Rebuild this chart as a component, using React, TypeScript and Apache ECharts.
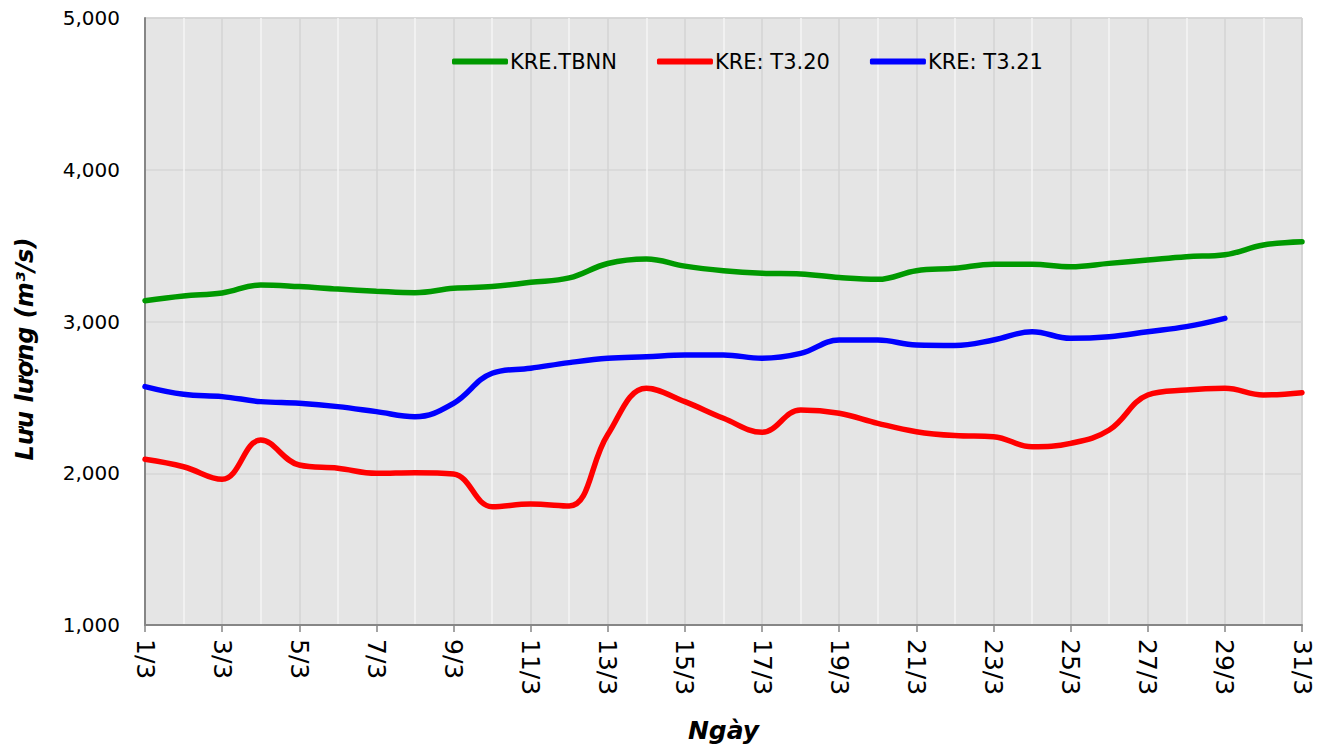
import React, { useEffect, useRef } from "react";
import * as echarts from "echarts";

const days: string[] = Array.from({ length: 31 }, (_, i) => `${i + 1}/3`);

const tbnn: number[] = [
  3137, 3168, 3188, 3241, 3230, 3214, 3200, 3190, 3219, 3230, 3258, 3287, 3382, 3412, 3365, 3335,
  3318, 3313, 3290, 3278, 3335, 3351, 3378, 3377, 3361, 3383, 3405, 3427, 3440, 3504, 3526,
];

const t320: number[] = [
  2092, 2043, 1960, 2219, 2054, 2033, 2000, 2004, 1995, 1780, 1797, 1784, 2255, 2560, 2472, 2362,
  2270, 2417, 2395, 2329, 2274, 2248, 2241, 2175, 2197, 2285, 2516, 2549, 2560, 2516, 2531,
];

const t321: (number | null)[] = [
  2571, 2520, 2505, 2472, 2461, 2439, 2406, 2373, 2461, 2659, 2692, 2729, 2758, 2768, 2779, 2779,
  2758, 2790, 2878, 2878, 2845, 2842, 2878, 2933, 2889, 2900, 2933, 2966, 3021, null, null,
];

const seriesNames = ["KRE.TBNN", "KRE: T3.20", "KRE: T3.21"];
const seriesColors = ["#009900", "#ff0000", "#0000ff"];

const FONT = '"DejaVu Sans", Verdana, sans-serif';

export default function App() {
  const ref = useRef<HTMLDivElement>(null);
  useEffect(() => {
    if (!ref.current) return;
    const chart = echarts.init(ref.current, null, { renderer: "svg" });
    const data = [tbnn, t320, t321];
    chart.setOption({
      animation: false,
      backgroundColor: "#ffffff",
      grid: {
        left: 145,
        top: 18,
        right: 27,
        bottom: 124,
        show: true,
        backgroundColor: "#e5e5e5",
        borderColor: "#bdbdbd",
        borderWidth: 1,
      },
      legend: {
        show: true,
        left: 447,
        top: 46,
        icon: "roundRect",
        itemWidth: 56,
        itemHeight: 6,
        itemGap: 40,
        textStyle: { fontFamily: FONT, fontSize: 21, color: "#000", padding: [0, 0, 0, -3] },
        data: seriesNames,
      },
      xAxis: {
        type: "category",
        data: days,
        boundaryGap: false,
        axisLine: { show: true, lineStyle: { color: "#868686", width: 2 } },
        axisTick: { show: true, interval: 1, length: 7, lineStyle: { color: "#868686", width: 1.5 } },
        axisLabel: {
          interval: 1,
          rotate: -90,
          margin: 14,
          fontFamily: FONT,
          fontSize: 25,
          color: "#000",
        },
        splitLine: {
          show: true,
          interval: 0,
          lineStyle: { color: ["#d3d3d3", "#f5f5f5"], width: 1.5 },
        },
        name: "Ngày",
        nameLocation: "middle",
        nameGap: 93,
        nameTextStyle: {
          fontFamily: FONT,
          fontSize: 25,
          fontWeight: "bold",
          fontStyle: "italic",
          color: "#000",
        },
      },
      yAxis: {
        type: "value",
        min: 1000,
        max: 5000,
        interval: 1000,
        axisLine: { show: true, lineStyle: { color: "#868686", width: 2 } },
        axisTick: { show: false },
        axisLabel: {
          margin: 25,
          fontFamily: FONT,
          fontSize: 20,
          color: "#000",
          formatter: (v: number) => v.toLocaleString("en-US"),
        },
        splitLine: { show: true, lineStyle: { color: "#d6d6d6", width: 1.5 } },
      },
      graphic: [
        {
          type: "text",
          x: 25,
          y: 349,
          rotation: Math.PI / 2,
          style: {
            text: "Lưu lượng (m³/s)",
            fontFamily: FONT,
            fontSize: 24,
            fontWeight: "bold",
            fontStyle: "italic",
            fill: "#000",
            align: "center",
            verticalAlign: "middle",
          },
        },
      ],
      series: seriesNames.map((name, i) => ({
        name,
        type: "line",
        data: data[i],
        smooth: 0.4,
        symbol: "none",
        connectNulls: false,
        lineStyle: { color: seriesColors[i], width: 5.5, cap: "round" },
        itemStyle: { color: seriesColors[i] },
      })),
    });
    return () => chart.dispose();
  }, []);
  return (
    <div
      ref={ref}
      style={{ position: "fixed", left: 0, top: 0, width: "1329px", height: "749px" }}
    />
  );
}
